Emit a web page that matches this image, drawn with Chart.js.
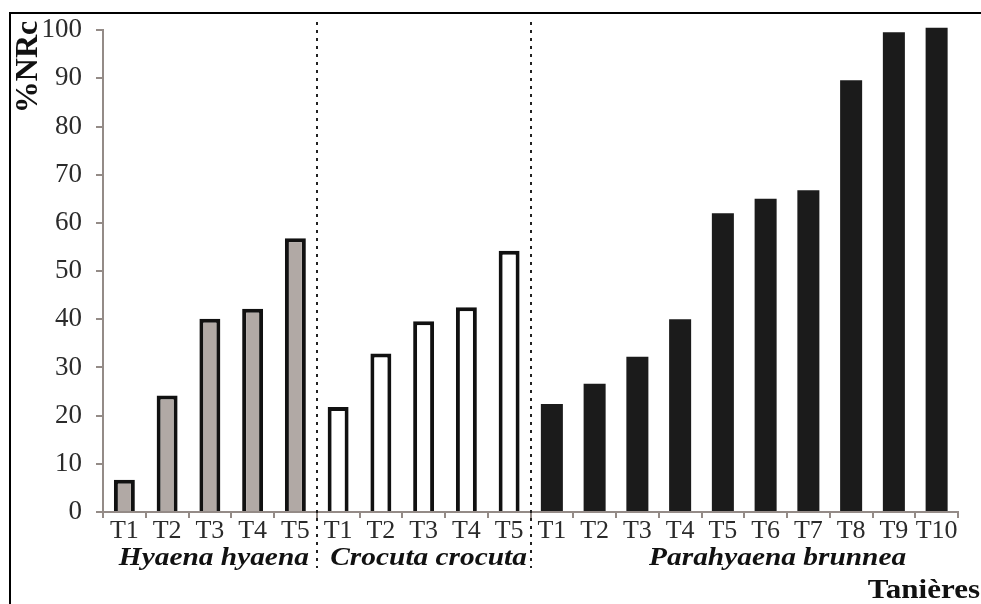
<!DOCTYPE html>
<html lang="fr">
<head>
<meta charset="UTF-8">
<title>%NRc par tanière</title>
<script src="https://cdn.jsdelivr.net/npm/chart.js"></script>
<style>
    body { margin: 0; background: #fff; }
    canvas { display: block; }
</style>
</head>
<body>
<canvas id="denChart" width="981" height="604"></canvas>
<script>
// tick labels of the x axis (one per den)
var denLabels = ['T1', 'T2', 'T3', 'T4', 'T5',
                 'T1', 'T2', 'T3', 'T4', 'T5',
                 'T1', 'T2', 'T3', 'T4', 'T5', 'T6', 'T7', 'T8', 'T9', 'T10'];

var groupNames = ['Hyaena hyaena', 'Crocuta crocuta', 'Parahyaena brunnea'];

// %NRc
var hyaenaValues = [6.7, 24.2, 40.1, 42.2, 56.8];
var crocutaValues = [21.8, 32.9, 39.6, 42.5, 54.2];
var parahyaenaValues = [22.4, 26.6, 32.2, 40.0, 62.0, 65.0, 66.8, 89.6, 99.6, 100.5];

var yTicks = [0, 10, 20, 30, 40, 50, 60, 70, 80, 90, 100];

// pad each series with nulls so it sits on its own slots
function placeSeries(values, start) {
    var out = [];
    for (var i = 0; i < denLabels.length; i++) {
        var k = i - start;
        out.push(k >= 0 && k < values.length ? values[k] : null);
    }
    return out;
}

var axisGray = '#948b87';
var serif = '"Liberation Serif", "Times New Roman", serif';

function drawText(ctx, text, x, y, font, align, sx) {
    ctx.save();
    ctx.font = font;
    ctx.textAlign = align;
    ctx.textBaseline = 'alphabetic';
    ctx.translate(x, y);
    ctx.scale(sx, 1);
    ctx.fillText(text, 0, 0);
    ctx.restore();
}

var decorPlugin = {
    id: 'decor',
    beforeDraw: function (chart) {
        var ctx = chart.ctx;
        ctx.save();
        ctx.fillStyle = '#fff';
        ctx.fillRect(0, 0, chart.width, chart.height);
        // frame (top + left only, picture is cropped)
        ctx.strokeStyle = '#000';
        ctx.lineWidth = 2;
        ctx.beginPath();
        ctx.moveTo(10, chart.height);
        ctx.lineTo(10, 13);
        ctx.lineTo(chart.width, 13);
        ctx.stroke();
        ctx.restore();
    },
    afterDraw: function (chart) {
        var ctx = chart.ctx;
        var x = chart.scales.x;
        ctx.save();

        // dotted separators between the three species
        ctx.strokeStyle = '#222';
        ctx.lineWidth = 2;
        ctx.setLineDash([3, 5]);
        [5, 10].forEach(function (idx) {
            var px = Math.round((x.getPixelForValue(idx - 1) + x.getPixelForValue(idx)) / 2);
            ctx.beginPath();
            ctx.moveTo(px, 22);
            ctx.lineTo(px, 568);
            ctx.stroke();
        });
        ctx.setLineDash([]);

        // species names under the ticks
        ctx.fillStyle = '#111';
        var groupFont = 'italic bold 26px ' + serif;
        drawText(ctx, groupNames[0], (x.getPixelForValue(0) + x.getPixelForValue(4)) / 2 + 4, 565, groupFont, 'center', 1.13);
        drawText(ctx, groupNames[1], (x.getPixelForValue(5) + x.getPixelForValue(9)) / 2 + 5, 565, groupFont, 'center', 1.13);
        drawText(ctx, groupNames[2], x.getPixelForValue(15) + 12, 565, groupFont, 'center', 1.13);

        // axis titles
        drawText(ctx, 'Tanières', 980, 598, 'bold 27px ' + serif, 'right', 1.15);

        ctx.save();
        ctx.translate(37, 67);
        ctx.rotate(-Math.PI / 2);
        ctx.font = 'bold 32px ' + serif;
        ctx.textAlign = 'center';
        ctx.textBaseline = 'alphabetic';
        ctx.fillText('%NRc', 0, 0);
        ctx.restore();

        ctx.restore();
    }
};

var ctxDen = document.getElementById('denChart').getContext('2d');
var denChart = new Chart(ctxDen, {
    type: 'bar',
    data: {
        labels: denLabels,
        datasets: [{
            label: groupNames[0],
            data: placeSeries(hyaenaValues, 0),
            backgroundColor: '#b1a9a5',
            borderColor: '#111',
            borderWidth: 4,
            barPercentage: 0.49,
        }, {
            label: groupNames[1],
            data: placeSeries(crocutaValues, 5),
            backgroundColor: '#ffffff',
            borderColor: '#111',
            borderWidth: 4,
            barPercentage: 0.49,
        }, {
            label: groupNames[2],
            data: placeSeries(parahyaenaValues, 10),
            backgroundColor: '#1b1b1b',
            borderWidth: 0,
            barPercentage: 0.515,
        }]
    },
    options: {
        responsive: false,
        animation: false,
        clip: false,
        layout: {
            padding: { top: 29, right: 23, left: 0, bottom: 0 }
        },
        datasets: {
            bar: {
                grouped: false,
                categoryPercentage: 1,
                borderSkipped: 'start',
            }
        },
        scales: {
            x: {
                offset: true,
                afterFit: function (scale) { scale.height = 92; },
                border: { color: axisGray, width: 2 },
                grid: {
                    offset: true,
                    drawOnChartArea: false,
                    drawTicks: true,
                    tickLength: 6,
                    color: axisGray,
                    lineWidth: 2,
                },
                ticks: {
                    color: '#2b2b2b',
                    font: { family: serif, size: 26 },
                    padding: -2,
                    maxRotation: 0,
                    autoSkip: false,
                }
            },
            y: {
                min: 0,
                max: 100,
                afterFit: function (scale) { scale.width = 103; },
                afterBuildTicks: function (scale) {
                    scale.ticks = yTicks.map(function (v) { return { value: v }; });
                },
                border: { color: axisGray, width: 2 },
                grid: {
                    drawOnChartArea: false,
                    drawTicks: true,
                    tickLength: 7,
                    color: axisGray,
                    lineWidth: 2,
                },
                ticks: {
                    color: '#2b2b2b',
                    font: { family: serif, size: 27 },
                    padding: 14,
                }
            }
        },
        plugins: {
            legend: { display: false },
            tooltip: { enabled: false },
        }
    },
    plugins: [decorPlugin]
});
</script>
</body>
</html>
